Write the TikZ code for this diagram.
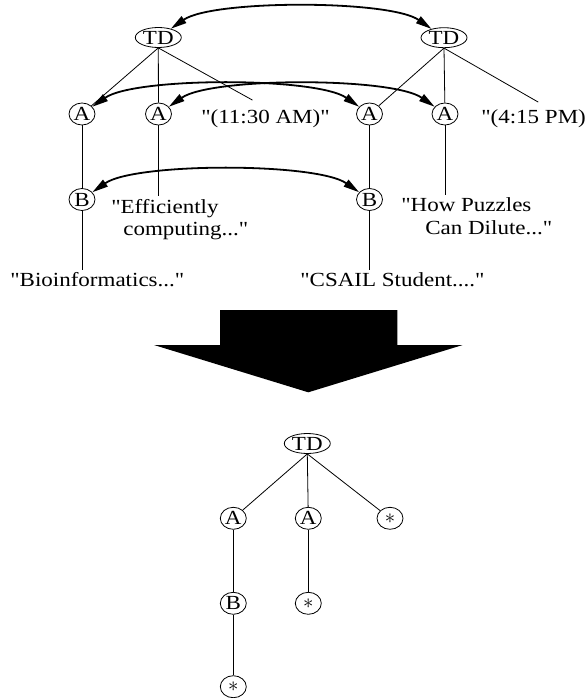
\documentclass[tikz,border=0pt]{standalone}
\usepackage{fontspec}
\setmainfont{Liberation Serif}[FakeStretch=1.15, Ligatures=TeXOff]
\usetikzlibrary{shapes.geometric,arrows.meta}

\begin{document}
\begin{tikzpicture}[
    x=1pt, y=-1pt,
    font=\fontsize{20}{22.4}\selectfont,
    vtx/.style={draw, ellipse, line width=0.8pt, inner sep=0pt, minimum width=26pt, minimum height=22pt},
    root/.style={vtx, minimum width=46pt, minimum height=20pt},
    lbl/.style={inner sep=0pt, outer sep=3pt},
    edge/.style={line width=0.8pt},
    match/.style={line width=1.8pt, {Triangle[length=16pt,width=8pt]}-{Triangle[length=16pt,width=8pt]}, bend left=35, looseness=0.5}
]
\useasboundingbox (0,0) rectangle (584,698);

% first tree
\node[root] (TDa) at (158.3,37.5) {TD};
\node[vtx] (Aa) at (82,114) {A};
\node[vtx] (Ab) at (158.5,114) {A};
\node[vtx] (Ba) at (82,199.5) {B};
\node[lbl, anchor=base west] (tma) at (198.3,124) {"(11:30 AM)"};
\node[lbl, anchor=north west, align=left] (eff) at (108.3,196) {"Efficiently\\\hspace*{12pt}computing..."};
\node[lbl, anchor=base west] (bio) at (7.3,286.7) {"Bioinformatics..."};

% second tree
\node[root] (TDb) at (444,37.7) {TD};
\node[vtx] (Ac) at (369.5,114) {A};
\node[vtx] (Ad) at (445,114) {A};
\node[vtx] (Bb) at (369.5,199.5) {B};
\node[lbl, anchor=base west] (tmb) at (478.3,124) {"(4:15 PM)"};
\node[lbl, anchor=north west, align=left] (puz) at (398.3,195) {"How Puzzles\\\hspace*{24pt}Can Dilute..."};
\node[lbl, anchor=base west] (csail) at (297.3,286.7) {"CSAIL Student...."};

\draw[edge] (TDa.south) -- (Aa);
\draw[edge] (TDa.south) -- (Ab);
\draw[edge] (TDa.south) -- ([xshift=-13pt,yshift=7pt]tma.north);
\draw[edge] (Aa) -- (Ba);
\draw[edge] (Ba) -- (Ba |- bio.north);
\draw[edge] (Ab) -- (Ab |- eff.north);

\draw[edge] (TDb.south) -- (Ac);
\draw[edge] (TDb.south) -- (Ad);
\draw[edge] (TDb.south) -- ([yshift=5pt]tmb.north);
\draw[edge] (Ac) -- (Bb);
\draw[edge] (Bb) -- (Bb |- csail.north);
\draw[edge] (Ad) -- (Ad |- puz.north);

% matchings
\draw[match] (TDa) to (TDb);
\draw[match] (Aa) to (Ac);
\draw[match] (Ab) to (Ad);
\draw[match] (Ba) to (Bb);

% big arrow
\fill (220,310) -- (397.3,310) -- (397.3,345) -- (462.7,345) -- (308.3,392.3)
  -- (154,345) -- (220,345) -- cycle;

% merged tree
\node[root] (TDm) at (307.3,443.5) {TD};
\node[vtx] (Am) at (233.3,518.3) {A};
\node[vtx] (An) at (308.3,518.3) {A};
\node[vtx] (Sa) at (390,518.3) {$\ast$};
\node[vtx] (Bm) at (233.3,603.3) {B};
\node[vtx] (Sb) at (308.3,603.3) {$\ast$};
\node[vtx] (Sc) at (233.3,686.7) {$\ast$};

\draw[edge] (TDm.south) -- (Am);
\draw[edge] (TDm.south) -- (An);
\draw[edge] (TDm.south) -- (Sa);
\draw[edge] (Am) -- (Bm);
\draw[edge] (Bm) -- (Sc);
\draw[edge] (An) -- (Sb);

\end{tikzpicture}
\end{document}
